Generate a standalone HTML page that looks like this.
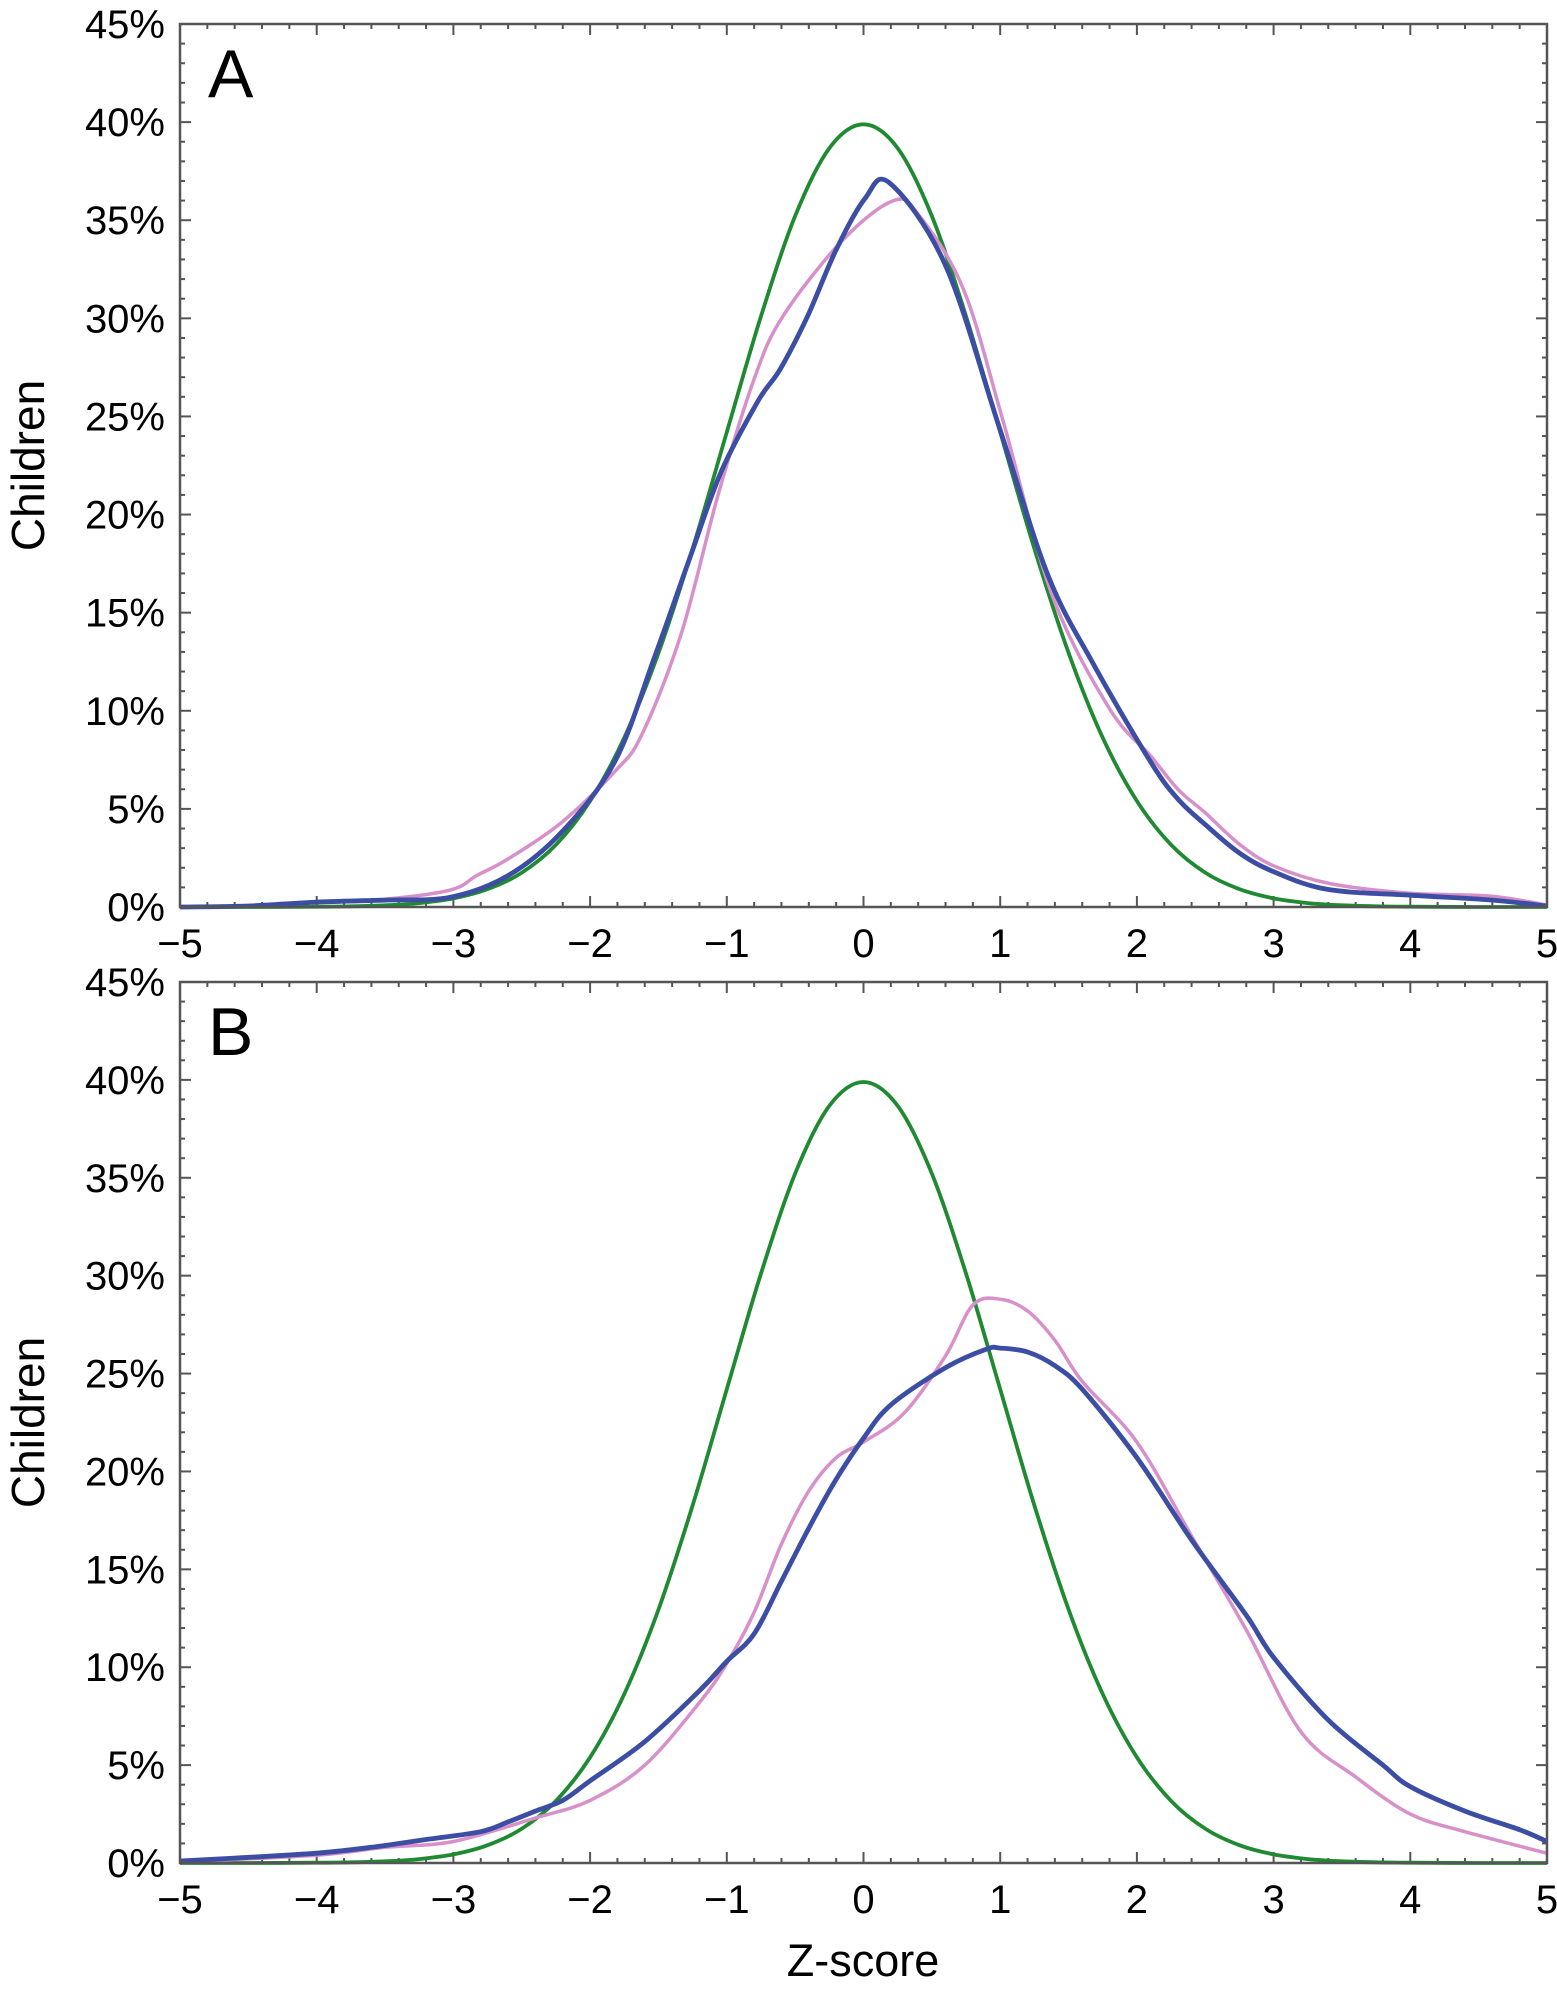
<!DOCTYPE html>
<html><head><meta charset="utf-8">
<style>
html,body{margin:0;padding:0;background:#fff;}
svg{display:block;font-family:"Liberation Sans",Arial,sans-serif;}
</style></head>
<body>
<svg id="chart" width="1557" height="1999" viewBox="0 0 1557 1999" xmlns="http://www.w3.org/2000/svg"></svg>
<script>
// ---- data ----
const xTicks = [-5,-4,-3,-2,-1,0,1,2,3,4,5];
const xTickLabels = ["\u22125","\u22124","\u22123","\u22122","\u22121","0","1","2","3","4","5"];
const yTicks = [0,5,10,15,20,25,30,35,40,45];
const yTickLabels = ["0%","5%","10%","15%","20%","25%","30%","35%","40%","45%"];

const normalX = [-5,-4.5,-4,-3.75,-3.5,-3.25,-3,-2.75,-2.5,-2.25,-2,-1.75,-1.5,-1.25,-1,-0.75,-0.5,-0.25,0,0.25,0.5,0.75,1,1.25,1.5,1.75,2,2.25,2.5,2.75,3,3.25,3.5,3.75,4,4.5,5];
const normalY = [0,0.002,0.013,0.035,0.087,0.2,0.44,0.91,1.75,3.17,5.4,8.63,12.95,18.26,24.2,30.11,35.21,38.67,39.89,38.67,35.21,30.11,24.2,18.26,12.95,8.63,5.4,3.17,1.75,0.91,0.44,0.2,0.087,0.035,0.013,0.002,0];

const aBlueX = [-5,-4.5,-4,-3.5,-3.02,-2.6,-2.21,-1.82,-1.53,-1.26,-1.04,-0.77,-0.61,-0.41,-0.2,0.01,0.19,0.6,1.0,1.35,1.68,2.1,2.3,2.5,2.75,3.0,3.39,4.0,4.58,5];
const aBlueY = [0,0.05,0.25,0.35,0.5,1.6,3.8,7.4,12.7,18.0,22.2,25.8,27.4,30.1,33.5,36.1,36.9,32.7,24.3,16.9,12.4,7.4,5.5,4.2,2.75,1.8,0.9,0.6,0.36,0.05];
const aPinkX = [-5,-4.5,-4,-3.5,-3.02,-2.83,-2.6,-2.21,-1.82,-1.62,-1.33,-1.06,-0.8,-0.59,-0.15,0.22,0.4,0.73,1.02,1.38,1.8,2.1,2.3,2.5,2.75,3.0,3.41,4.0,4.58,5];
const aPinkY = [0,0.05,0.25,0.4,0.87,1.6,2.45,4.3,6.9,8.8,14.0,21.1,26.9,30.1,34.0,36.0,35.3,31.5,24.8,15.9,10.1,7.7,6.0,4.8,3.2,2.1,1.2,0.7,0.56,0.1];

const bBlueX = [-5,-4.6,-4,-3.6,-3.2,-2.8,-2.6,-2.4,-2.2,-2,-1.6,-1.2,-1,-0.8,-0.6,-0.4,-0.2,0,0.2,0.6,0.9,1,1.2,1.4,1.6,2,2.4,2.8,3,3.4,3.8,4,4.4,4.8,5];
const bBlueY = [0.1,0.25,0.5,0.8,1.2,1.6,2.1,2.65,3.2,4.2,6.2,8.8,10.3,11.7,14.4,17.1,19.6,21.7,23.4,25.3,26.25,26.3,26.1,25.4,24.2,20.7,16.5,12.65,10.5,7.3,5.0,3.9,2.65,1.7,1.1];
const bPinkX = [-5,-4,-3.5,-3,-2.4,-2,-1.6,-1.2,-1,-0.8,-0.6,-0.4,-0.2,0,0.3,0.6,0.8,1,1.2,1.4,1.6,2,2.4,2.8,3.2,3.6,4,4.4,5];
const bPinkY = [0.05,0.4,0.8,1.1,2.3,3.2,5.0,8.2,10.2,12.8,16.3,19.0,20.7,21.5,23.0,25.9,28.5,28.8,28.2,26.7,24.6,21.5,16.7,11.9,6.7,4.4,2.5,1.6,0.5];

// ---- layout ----
const svg = document.getElementById('chart');
const NS = 'http://www.w3.org/2000/svg';
const X0 = 180, X1 = 1547;
function xs(v){ return X0 + (v + 5) / 10 * (X1 - X0); }
function mk(tag, attrs, parent){
  const e = document.createElementNS(NS, tag);
  for (const k in attrs) e.setAttribute(k, attrs[k]);
  (parent || svg).appendChild(e);
  return e;
}
function smoothPath(P){
  let d = 'M' + P[0][0].toFixed(1) + ',' + P[0][1].toFixed(1);
  for (let i = 0; i < P.length - 1; i++) {
    const p0 = P[Math.max(0, i - 1)], p1 = P[i], p2 = P[i + 1], p3 = P[Math.min(P.length - 1, i + 2)];
    const c1x = p1[0] + (p2[0] - p0[0]) / 6, c1y = p1[1] + (p2[1] - p0[1]) / 6;
    const c2x = p2[0] - (p3[0] - p1[0]) / 6, c2y = p2[1] - (p3[1] - p1[1]) / 6;
    d += ' C' + c1x.toFixed(1) + ',' + c1y.toFixed(1) + ' ' + c2x.toFixed(1) + ',' + c2y.toFixed(1) + ' ' + p2[0].toFixed(1) + ',' + p2[1].toFixed(1);
  }
  return d;
}

const panels = [
  {id:'a', letter:'A', top:24, bottom:907, series:[[aPinkX,aPinkY,'#d790c9',3.5,'pink'],[aBlueX,aBlueY,'#3b4ea3',4.8,'blue']]},
  {id:'b', letter:'B', top:982, bottom:1863, series:[[bPinkX,bPinkY,'#d790c9',3.5,'pink'],[bBlueX,bBlueY,'#3b4ea3',4.8,'blue']]}
];

panels.forEach(p => {
  const ys = v => p.bottom - v / 45 * (p.bottom - p.top);
  const g = mk('g', {});
  
  

  for (let i = 0; i <= 50; i++) {
    const v = -5 + i * 0.2;
    const L = i % 5 === 0 ? 11 : 5;
    const x = xs(v);
    const t1 = mk('line', {x1:x, y1:p.bottom, x2:x, y2:p.bottom - L, stroke:'#555', 'stroke-width':2}, g);
    
    
    const t2 = mk('line', {x1:x, y1:p.top, x2:x, y2:p.top + L, stroke:'#555', 'stroke-width':2}, g);
    
    
  }
  for (let i = 0; i <= 45; i++) {
    const L = i % 5 === 0 ? 11 : 5;
    const y = ys(i);
    const t1 = mk('line', {x1:X0, y1:y, x2:X0 + L, y2:y, stroke:'#555', 'stroke-width':2}, g);
    
    
    const t2 = mk('line', {x1:X1, y1:y, x2:X1 - L, y2:y, stroke:'#555', 'stroke-width':2}, g);
    
    
  }

  xTicks.forEach((v, i) => {
    const t = mk('text', {x:xs(v), y:p.bottom + 50, 'font-size':40, 'text-anchor':'middle', fill:'#000'}, g);
    
    
    t.textContent = xTickLabels[i];
  });
  yTicks.forEach((v, i) => {
    const t = mk('text', {x:165, y:ys(v) + 14, 'font-size':40, 'text-anchor':'end', fill:'#000'}, g);
    
    
    t.textContent = yTickLabels[i];
  });
  const yc = (p.top + p.bottom) / 2;
  const yt = mk('text', {x:0, y:0, 'font-size':46, 'text-anchor':'middle', fill:'#000', transform:'translate(44,' + yc + ') rotate(-90)'}, g);
  
  
  yt.textContent = 'Children';
  const pl = mk('text', {x:208, y:p.top + 73, 'font-size':68, fill:'#000'}, g);
  
  
  pl.textContent = p.letter;

  const nl = mk('path', {d:smoothPath(normalX.map((v, i) => [xs(v), ys(normalY[i])])), fill:'none', stroke:'#1f8a32', 'stroke-width':3.8, 'stroke-linejoin':'round'}, g);
  
  

  p.series.forEach(s => {
    const l = mk('path', {d:smoothPath(s[0].map((v, i) => [xs(v), ys(s[1][i])])), fill:'none', stroke:s[2], 'stroke-width':s[3], 'stroke-linejoin':'round'}, g);
    
    
  });

  const fr = mk('rect', {x:X0, y:p.top, width:X1 - X0, height:p.bottom - p.top, fill:'none', stroke:'#555', 'stroke-width':2.5}, g);
  
  
});

const xt = mk('text', {x:863, y:1976, 'font-size':45, 'text-anchor':'middle', fill:'#000'});


xt.textContent = 'Z-score';
</script>
</body></html>
